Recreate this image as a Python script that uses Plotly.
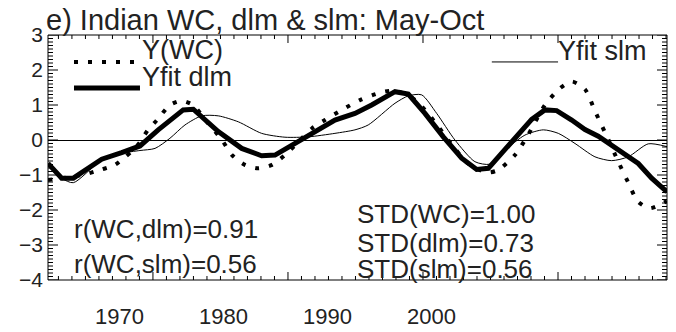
import plotly.graph_objects as go

# Indian WC index (May-Oct) with the dynamic (dlm) and static (slm) model fits
wc_year = [1963.06, 1964.41, 1966.34, 1967.59, 1969.52, 1970.48, 1971.25, 1971.93,
           1972.70, 1973.57, 1974.82, 1975.95, 1977.04, 1978.49, 1979.84, 1980.80,
           1982.05, 1983.31, 1984.66, 1985.91, 1987.55, 1988.51, 1989.77, 1991.41,
           1993.14, 1995.07, 1996.52, 1998.25, 1999.41, 2000.57, 2002.01, 2003.56,
           2005.39, 2006.45, 2008.09, 2009.34, 2010.98, 2012.43, 2013.59, 2014.84,
           2015.80, 2017.06, 2018.02, 2018.99, 2019.95, 2021.11, 2022.75]
wc_val = [-1.14, -1.09, -1.00, -0.90, -0.71, -0.49, -0.29, -0.06,
          0.29, 0.57, 1.00, 1.12, 1.00, 0.48, 0.00, -0.43,
          -0.71, -0.81, -0.71, -0.43, 0.05, 0.33, 0.57, 0.86,
          1.14, 1.35, 1.41, 1.19, 0.86, 0.43, -0.14, -0.67,
          -0.93, -0.86, -0.43, 0.14, 1.00, 1.48, 1.67, 1.45,
          0.83, 0.03, -0.60, -1.20, -1.76, -1.95, -1.74]

dlm_year = [1963.06, 1964.38, 1965.50, 1968.24, 1970.16, 1971.93, 1973.69, 1976.10,
            1977.07, 1979.48, 1981.74, 1983.66, 1984.95, 1986.23, 1988.16, 1990.73,
            1992.66, 1994.27, 1996.52, 1997.80, 1999.41, 2001.18, 2002.95, 2004.40,
            2005.52, 2006.96, 2008.41, 2009.70, 2010.98, 2012.11, 2013.56, 2014.84,
            2016.12, 2017.41, 2018.70, 2019.98, 2021.27, 2022.75]
dlm_val = [-0.67, -1.09, -1.09, -0.55, -0.36, -0.17, 0.29, 0.86,
           0.88, 0.24, -0.24, -0.45, -0.43, -0.21, 0.14, 0.57,
           0.76, 1.00, 1.38, 1.31, 0.76, 0.09, -0.52, -0.84,
           -0.81, -0.33, 0.19, 0.59, 0.86, 0.84, 0.57, 0.30,
           0.11, -0.14, -0.41, -0.67, -1.09, -1.48]

slm_year = [1963.06, 1964.38, 1965.50, 1968.24, 1970.16, 1971.93, 1973.38, 1974.82,
            1976.27, 1977.88, 1979.48, 1981.41, 1983.66, 1985.91, 1988.16, 1990.73,
            1992.66, 1993.94, 1996.52, 1997.80, 1999.09, 2000.54, 2002.30, 2004.23,
            2005.68, 2007.13, 2009.05, 2010.82, 2012.27, 2013.88, 2015.80, 2017.41,
            2019.02, 2020.94, 2022.75]
slm_val = [-0.67, -1.09, -1.22, -0.57, -0.38, -0.30, -0.24, 0.05,
           0.43, 0.69, 0.69, 0.52, 0.19, 0.08, 0.09, 0.19,
           0.29, 0.43, 1.05, 1.26, 1.29, 0.76, 0.00, -0.62,
           -0.69, -0.29, 0.14, 0.29, 0.19, -0.10, -0.48, -0.59,
           -0.48, -0.11, -0.19]

year_labels = [1970, 1980, 1990, 2000]
y_ticks = [-4, -3, -2, -1, 0, 1, 2, 3]

title_text = "e) Indian WC, dlm & slm: May-Oct"
stats_r = ["r(WC,dlm)=0.91", "r(WC,slm)=0.56"]
stats_std = ["STD(WC)=1.00", "STD(dlm)=0.73", "STD(slm)=0.56"]

FONT = "Liberation Sans, Arial, sans-serif"
INK = "#222222"
DOTS = "4px,10px"
X_RANGE = [1963.06, 2022.75]
Y_RANGE = [-4, 3]
# time-axis tick grid: major every 13.02, minor every 1.302 (axis units)
X_TICK0, X_MAJOR, X_MINOR = 1973.18, 13.02, 1.302

fig = go.Figure()

fig.add_trace(go.Scatter(
    x=slm_year, y=slm_val, mode="lines", name="Yfit slm",
    line=dict(color="black", width=1, shape="spline", smoothing=0.7),
    showlegend=False, hoverinfo="skip"))
fig.add_trace(go.Scatter(
    x=wc_year, y=wc_val, mode="lines", name="Y(WC)",
    line=dict(color="black", width=4, dash=DOTS, shape="spline", smoothing=0.7),
    showlegend=False, hoverinfo="skip"))
fig.add_trace(go.Scatter(
    x=dlm_year, y=dlm_val, mode="lines", name="Yfit dlm",
    line=dict(color="black", width=5),
    showlegend=False, hoverinfo="skip"))

fig.update_layout(
    template="none",
    width=676, height=332,
    margin=dict(l=48, r=9, t=35, b=52, autoexpand=False),
    paper_bgcolor="white", plot_bgcolor="white",
    font=dict(family=FONT, color=INK),
    xaxis=dict(range=X_RANGE, automargin=False, ticks="", showline=False,
               showgrid=False, zeroline=False, showticklabels=False),
    yaxis=dict(range=Y_RANGE, tickmode="array", tickvals=y_ticks, ticks="",
               showline=False, showgrid=False, automargin=False,
               zeroline=True, zerolinecolor="black", zerolinewidth=1,
               tickfont=dict(size=21, color=INK), ticklabelstandoff=4),
)

# plot frame
fig.add_shape(type="rect", xref="paper", yref="paper", x0=0, x1=1, y0=0, y1=1,
              line=dict(color="black", width=1), layer="above")

TICK = dict(color="black", width=1)

def y_tick(v, length):
    for anchor, sign in ((0, 1), (1, -1)):
        fig.add_shape(type="line", xref="paper", yref="y", xsizemode="pixel",
                      xanchor=anchor, x0=0, x1=sign * length, y0=v, y1=v,
                      line=TICK, layer="above")

def x_tick(v, length):
    for anchor, sign in ((0, 1), (1, -1)):
        fig.add_shape(type="line", xref="x", yref="paper", ysizemode="pixel",
                      yanchor=anchor, y0=0, y1=sign * length, x0=v, x1=v,
                      line=TICK, layer="above")

# value axis: major ticks on integers, minor every 0.1
for k in range(Y_RANGE[0] * 10, Y_RANGE[1] * 10 + 1):
    y_tick(k / 10, 10 if k % 10 == 0 else 5)

# time axis ticks
k = -int((X_TICK0 - X_RANGE[0]) / X_MINOR)
while X_TICK0 + k * X_MINOR <= X_RANGE[1]:
    x_tick(X_TICK0 + k * X_MINOR, 8 if k % 10 == 0 else 4)
    k += 1

# year labels under the time axis
for yr in year_labels:
    fig.add_annotation(text=str(yr), xref="x", yref="paper", x=yr, y=-0.147,
                       xanchor="center", yanchor="middle", showarrow=False,
                       borderpad=0, font=dict(size=22, color=INK, family=FONT))

# legend samples
fig.add_shape(type="line", xref="paper", yref="paper", x0=0.042, x1=0.1405,
              y0=0.890, y1=0.890, line=dict(color="black", width=4, dash=DOTS))
fig.add_shape(type="line", xref="paper", yref="paper", x0=0.042, x1=0.1486,
              y0=0.784, y1=0.784, line=dict(color="black", width=5))
fig.add_shape(type="line", xref="paper", yref="paper", x0=0.717, x1=0.824,
              y0=0.890, y1=0.890, line=dict(color="black", width=1))

def label(text, x, y, size):
    fig.add_annotation(text=text, xref="paper", yref="paper", x=x, y=y,
                       xanchor="left", yanchor="middle", showarrow=False,
                       borderpad=0, font=dict(size=size, color=INK, family=FONT))

label(title_text, -0.005, 1.061, 29)
label("Y(WC)", 0.150, 0.937, 27)
label("Yfit dlm", 0.151, 0.827, 27)
label("Yfit slm", 0.822, 0.935, 27)
for text, yy in zip(stats_r, [0.208, 0.065]):
    label(text, 0.040, yy, 26)
for text, yy in zip(stats_std, [0.269, 0.151, 0.045]):
    label(text, 0.497, yy, 26)

fig.write_html("out.html")
